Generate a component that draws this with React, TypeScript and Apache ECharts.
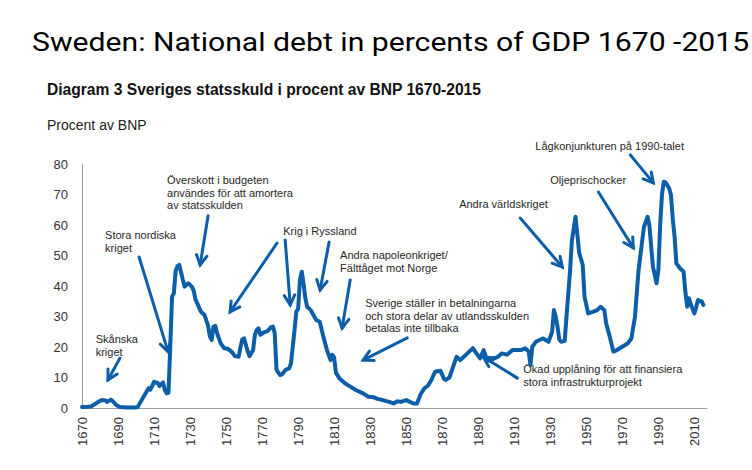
import React, { useEffect, useRef } from "react";
import * as echarts from "echarts";

const TITLE = "Sweden: National debt in percents of GDP 1670 -2015";
const SUBTITLE = "Diagram 3 Sveriges statsskuld i procent av BNP 1670-2015";
const UNIT = "Procent av BNP";

const years = [
  1670, 1672, 1675, 1677, 1679, 1681, 1683, 1684, 1686, 1687, 1689, 1691, 1695, 1700, 1701, 1703, 1705, 1707, 1708,
  1710, 1712, 1713, 1714, 1715, 1716, 1717, 1718, 1719, 1720, 1721, 1722, 1723, 1724, 1725, 1726, 1727, 1729, 1731,
  1732, 1733, 1734, 1736, 1738, 1740, 1741, 1742, 1743, 1744, 1745, 1747, 1749, 1751, 1753, 1755, 1757, 1758, 1759,
  1760, 1762, 1763, 1765, 1766, 1767, 1768, 1769, 1771, 1773, 1775, 1776, 1777, 1778, 1780, 1781, 1783, 1785, 1786,
  1787, 1788, 1789, 1790, 1791, 1792, 1793, 1794, 1795, 1797, 1798, 1800, 1802, 1804, 1806, 1808, 1809, 1810, 1811,
  1813, 1816, 1819, 1822, 1826, 1829, 1832, 1834, 1837, 1840, 1843, 1845, 1847, 1850, 1852, 1854, 1856, 1858, 1860,
  1862, 1864, 1866, 1869, 1871, 1872, 1874, 1876, 1878, 1880, 1882, 1885, 1887, 1889, 1891, 1893, 1895, 1897, 1899,
  1901, 1903, 1906, 1909, 1912, 1914, 1916, 1918, 1919, 1920, 1922, 1924, 1926, 1929, 1931, 1932, 1933, 1934, 1935,
  1936, 1938, 1939, 1941, 1942, 1944, 1945, 1946, 1948, 1949, 1951, 1954, 1956, 1958, 1960, 1961, 1963, 1965, 1967,
  1970, 1973, 1975, 1977, 1979, 1982, 1984, 1985, 1986, 1987, 1989, 1990, 1991, 1992, 1993, 1994, 1995, 1996, 1997,
  1998, 1999, 2000, 2002, 2004, 2005, 2006, 2007, 2008, 2009, 2010, 2011, 2012, 2013, 2014, 2015,
];

const debt = [
  0.3, 0.3, 0.5, 1.2, 2.0, 2.6, 2.5, 2.0, 2.7, 2.3, 1.0, 0.3, 0.2, 0.2, 0.4, 2.5, 4.5, 6.5, 6.0,
  8.6, 8.2, 7.2, 7.8, 8.4, 5.9, 4.8, 5.0, 20, 36.5, 37.6, 45, 46.5, 46.9, 44.5, 42, 39.8, 40.9, 39.8,
  38.5, 35.5, 34.3, 31.6, 30.5, 27, 23.5, 22.3, 26.7, 26.9, 24.5, 21.2, 19.6, 19.4, 18.5, 17.0, 16.8, 20, 22.5,
  22.8, 18.5, 17.0, 19.0, 24.0, 25.6, 26.1, 24.0, 24.8, 25.2, 26.5, 26.7, 24.5, 12.5, 10.8, 11.0, 12.5, 13.0, 14.6,
  20, 25.6, 31.6, 32.5, 42, 44.7, 40.9, 36, 33.2, 32.1, 31, 28.9, 28.3, 23.4, 19, 15.7, 17.4, 16.5, 11.5,
  9.7, 8.1, 7.0, 5.9, 4.8, 3.7, 3.5, 3.0, 2.6, 2.1, 1.5, 2.2, 2.0, 2.6, 2.0, 1.5, 1.5, 4.5, 6.4,
  7.3, 9.2, 11.9, 12.2, 9.5, 9.2, 10.0, 13.5, 16.8, 15.7, 16.8, 18.5, 19.6, 17.9, 16.3, 19.0, 15.5, 15.7, 16.3,
  16.8, 17.9, 17.5, 19.0, 19.0, 19.0, 19.6, 18.5, 14.1, 20.1, 21.7, 22.3, 22.8, 21.7, 25, 32.1, 30, 26.7, 22.5,
  21.7, 22.0, 30, 45.2, 55, 62.7, 57, 51, 46.9, 36.5, 31, 31.6, 32.1, 33.2, 32.1, 27.8, 23.4, 18.5, 19.0,
  20.1, 21.2, 22.8, 29.9, 45.2, 59.4, 62.7, 60, 53, 46.3, 40.9, 45.2, 60, 70, 74.2, 74, 73, 72, 69.8,
  62, 56.2, 47.4, 45.8, 44.7, 38, 33.2, 36, 34, 32.5, 31, 33, 35.4, 35, 35, 33.8,
];

const xLabelYears = [1670, 1690, 1710, 1730, 1750, 1770, 1790, 1810, 1830, 1850, 1870, 1890, 1910, 1930, 1950, 1970, 1990, 2010];

// Annotation texts, anchored in data coordinates [year, value] (left edge, first line middle)
const noteTexts = [
  "Skånska\nkriget",
  "Stora nordiska\nkriget",
  "Överskott i budgeten\nanvändes för att amortera\nav statsskulden",
  "Krig i Ryssland",
  "Andra napoleonkriget/\nFälttåget mot Norge",
  "Sverige ställer in betalningarna\noch stora delar av utlandsskulden\nbetalas inte tillbaka",
  "Andra världskriget",
  "Lågkonjunkturen på 1990-talet",
  "Oljeprischocker",
  "Ökad upplåning för att finansiera\nstora infrastrukturprojekt",
];
const noteAnchors = [
  [1677.6, 22.6], [1682.8, 56.7], [1717.2, 74.8], [1781.7, 58.0], [1813.3, 50.2],
  [1827.2, 34.4], [1879.4, 66.9], [1921.7, 85.9], [1930.0, 74.8], [1915.0, 12.8],
];

// Arrows, from -> to, in data coordinates
const arrowFrom = [
  [1691.1, 16.4], [1701.7, 49.5], [1740.0, 63.0], [1778.3, 54.1], [1782.8, 55.1], [1807.2, 54.4],
  [1818.9, 42.0], [1850.6, 23.0], [1911.7, 9.8], [1913.3, 62.3], [1956.7, 70.8], [1974.4, 83.0],
];
const arrowTo = [
  [1684.4, 9.2], [1717.8, 18.4], [1735.6, 46.9], [1752.2, 31.5], [1785.6, 33.8], [1802.2, 38.7],
  [1814.4, 26.2], [1826.1, 15.7], [1892.8, 16.7], [1936.7, 46.2], [1976.1, 52.5], [1987.2, 73.8],
];

const BLUE = "#0d5ea8";
const TEXT = "#262626";

export default function App() {
  const ref = useRef<HTMLDivElement>(null);
  useEffect(() => {
    document.body.style.margin = "0";
    const chart = echarts.init(ref.current!, null, { renderer: "svg" });
    chart.setOption({
      animation: false,
      backgroundColor: "#ffffff",
      grid: { left: 82, top: 164, right: 45, bottom: 62, containLabel: false },
      xAxis: {
        type: "value",
        min: 1670,
        max: 2017,
        interval: 10,
        axisLine: { show: true, lineStyle: { color: "#9a9a9a", width: 1 } },
        axisTick: { show: false },
        splitLine: { show: false },
        axisLabel: {
          rotate: 90,
          margin: 9,
          fontSize: 13,
          fontFamily: "Liberation Sans, Arial, sans-serif",
          color: "#333333",
          showMaxLabel: false,
          formatter: (v: number) => (xLabelYears.includes(v) ? String(v) : ""),
        },
      },
      yAxis: {
        type: "value",
        min: 0,
        max: 80,
        interval: 10,
        axisLine: { show: true, lineStyle: { color: "#9a9a9a", width: 1 } },
        axisTick: { show: false },
        splitLine: { show: false },
        axisLabel: {
          margin: 14,
          fontSize: 13,
          fontFamily: "Liberation Sans, Arial, sans-serif",
          color: "#333333",
        },
      },
      series: [
        {
          type: "line",
          data: years.map((y, i) => [y, debt[i]]),
          showSymbol: false,
          symbol: "none",
          lineStyle: { color: BLUE, width: 4, join: "round", cap: "round" },
          clip: false,
        },
      ],
    });

    const toPx = (p: number[]) => chart.convertToPixel({ gridIndex: 0 }, p) as number[];
    const graphics: any[] = [
      {
        type: "text",
        x: 32,
        y: 29,
        scaleX: 1.16,
        style: { text: TITLE, font: "26px Roboto", fill: "#000000" },
      },
      {
        type: "text",
        x: 47,
        y: 81,
        style: { text: SUBTITLE, font: "bold 15.6px 'Liberation Sans', Arial", fill: "#111111" },
      },
      {
        type: "text",
        x: 47,
        y: 118,
        style: { text: UNIT, font: "14px 'Liberation Sans', Arial", fill: "#222222" },
      },
    ];
    noteTexts.forEach((t, i) => {
      const [x, y] = toPx(noteAnchors[i]);
      graphics.push({
        type: "text",
        x,
        y: y - 6,
        style: {
          text: t,
          font: "11px 'Liberation Sans', Arial",
          fill: TEXT,
          lineHeight: 12.5,
          textAlign: "left",
          textVerticalAlign: "top",
        },
      });
    });
    arrowFrom.forEach((f, i) => {
      const [x1, y1] = toPx(f);
      const [x2, y2] = toPx(arrowTo[i]);
      const a = Math.atan2(y2 - y1, x2 - x1);
      const L = 11;
      const spread = 0.5;
      graphics.push({
        type: "line",
        shape: { x1, y1, x2, y2 },
        style: { stroke: BLUE, lineWidth: 3, lineCap: "round" },
      });
      graphics.push({
        type: "polyline",
        shape: {
          points: [
            [x2 - L * Math.cos(a - spread), y2 - L * Math.sin(a - spread)],
            [x2, y2],
            [x2 - L * Math.cos(a + spread), y2 - L * Math.sin(a + spread)],
          ],
        },
        style: { stroke: BLUE, lineWidth: 3, fill: null, lineJoin: "miter", lineCap: "round" },
      });
    });
    chart.setOption({ graphic: graphics });
    return () => chart.dispose();
  }, []);
  return <div ref={ref} style={{ width: 752, height: 470 }} />;
}
